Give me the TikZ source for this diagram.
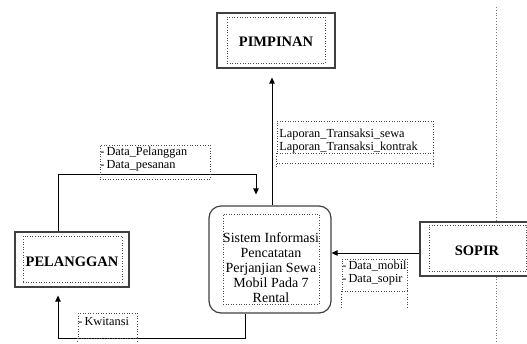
\documentclass[tikz,border=0pt]{standalone}
\usepackage{fontspec}
\setmainfont{Liberation Serif}
\usetikzlibrary{arrows.meta}
\begin{document}
\begin{tikzpicture}[x=1pt,y=-1pt,
  outerbox/.style={draw=black!75, line width=1.2pt, inner sep=0pt},
  innerbox/.style={draw=black!70, dotted, line width=0.6pt, inner sep=0pt},
  lblbox/.style={draw=black!70, dotted, line width=0.6pt, inner sep=0pt},
  enttext/.style={font=\fontsize{14.5}{16}\selectfont\bfseries, text=black, inner sep=0pt},
  lbltext/.style={font=\fontsize{12.3}{13.5}\selectfont, align=left, inner sep=0.5pt, anchor=west},
  flow/.style={draw=black, line width=0.9pt, -{Triangle[length=6pt,width=5.5pt]}},
  sep/.style={draw=black!55, dotted, line width=0.8pt}
]
\useasboundingbox (0,0) rectangle (527,343);

% Entities
\node[outerbox, minimum width=118pt, minimum height=55pt] (pim) at (276,40.5) {};
\node[innerbox, minimum width=98pt, minimum height=46pt] (pimin) at (276,40) {};
\node[enttext] (pimt) at (276,42) {PIMPINAN};

\node[outerbox, minimum width=114pt, minimum height=55pt] (pel) at (72,259.5) {};
\node[innerbox, minimum width=99pt, minimum height=46pt] (pelin) at (72.5,259) {};
\node[enttext] (pelt) at (72,262) {PELANGGAN};

\node[outerbox, minimum width=118pt, minimum height=54pt] (sop) at (479,249) {};
\node[innerbox, minimum width=97pt, minimum height=46pt] (sopin) at (477.5,248) {};
\node[enttext] (sopt) at (477,251) {SOPIR};

% Process
\node[outerbox, rounded corners=12pt, minimum width=122pt, minimum height=107pt] (sis) at (270,259.5) {};
\node[innerbox, minimum width=96pt, minimum height=90pt] (sisin) at (271,259) {};
\node[font=\fontsize{14}{15}\selectfont, align=center, inner sep=0pt] (sist) at (271,268)
  {Sistem Informasi\\Pencatatan\\Perjanjian Sewa\\Mobil Pada 7\\Rental};

% Separator line
\coordinate (vt) at (496,7);
\coordinate (vb) at (496,343);
\draw[sep] (vt) -- (vt |- sop.north);
\draw[sep] (vb |- sop.south) -- (vb);

% Connectors
\coordinate (a1) at (58,174);
\coordinate (a2) at (256,174);
\draw[flow, shorten >=11pt] (a1 |- pel.north) -- (a1) -- (a2) -- (a2 |- sis.north);

\coordinate (xl) at (272,0);
\draw[flow, shorten >=9pt] (xl |- sis.north) -- (xl |- pim.south);

\coordinate (yl) at (0,253);
\draw[flow] (sop.west |- yl) -- (sis.east |- yl);

\coordinate (b1) at (245,338);
\coordinate (b2) at (58,338);
\draw[flow, shorten >=8pt] (b1 |- sis.south) -- (b1) -- (b2) -- (b2 |- pel.south);

% Labels
\node[lblbox, minimum width=110pt, minimum height=34pt] (l1) at (155,162) {};
\node[lbltext] (l1t) at ([yshift=3pt]l1.west) {-\,Data\_Pelanggan\\-\,Data\_pesanan};

\node[lblbox, minimum width=156pt, minimum height=32pt] (l2) at (355,137) {};
\node[lbltext] (l2t) at ([xshift=2pt,yshift=-4pt]l2.west) {Laporan\_Transaksi\_sewa\\Laporan\_Transaksi\_kontrak};
\coordinate (l2a) at (0,163);
\coordinate (l2b) at (0,167);
\draw[lblbox] (l2.south west |- l2a) -- (l2.south east |- l2a);
\draw[lblbox] (l2.south west) -- (l2.south west |- l2b);
\draw[lblbox] (l2.south east) -- (l2.south east |- l2b);

\node[lblbox, minimum width=65pt, minimum height=32pt] (l3) at (374.5,275) {};
\node[lbltext] (l3t) at ([yshift=2pt]l3.west) {-\,Data\_mobil\\-\,Data\_sopir};
\coordinate (l3b) at (0,308);
\draw[lblbox] (l3.south west) -- (l3.south west |- l3b);
\draw[lblbox] (l3.south east) -- (l3.south east |- l3b);

\node[lblbox, minimum width=59pt, minimum height=25pt] (l4) at (107.5,325.5) {};
\node[lbltext] (l4t) at ([yshift=4pt]l4.west) {-\,Kwitansi};
\coordinate (l4b) at (0,343);
\draw[lblbox] (l4.south west) -- (l4.south west |- l4b);
\draw[lblbox] (l4.south east) -- (l4.south east |- l4b);
\end{tikzpicture}
\end{document}
